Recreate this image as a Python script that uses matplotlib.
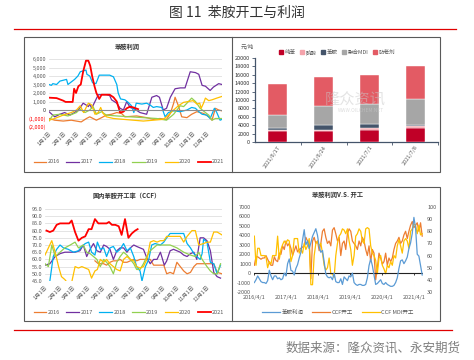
import matplotlib
matplotlib.use("Agg")
import matplotlib.pyplot as plt
import pandas as pd
from matplotlib.patches import Rectangle, Patch
from matplotlib.lines import Line2D

plt.rcParams['font.family'] = ['Noto Sans CJK SC', 'DejaVu Sans']
plt.rcParams['axes.unicode_minus'] = False

# ---------------- data ----------------
# panel 1: aniline profit by year (day of year, yuan/t)
p16_d = [0,12,30,47,68,79,86,100,111,121,132,143,153,160,185,206,220,234,248,256,263,266,273,280,291,301,312,326,337,344,351,358,365]
p16_v = [-1000,-1200,-1300,-1200,-1400,-1000,-800,-1200,-900,-600,-500,-300,-400,-800,-700,-900,-1100,-1000,-1100,-400,800,1500,500,-800,-900,-500,-200,-400,-800,-1200,200,0,-100]
p17_d = [0,12,23,33,44,54,61,66,72,78,83,86,90,97,104,121,128,132,143,150,157,164,171,181,192,206,217,227,233,241,248,256,266,277,287,298,309,316,323,330,340,347,358,365]
p17_v = [-200,-800,-500,-300,-600,-300,0,300,800,600,400,700,200,1000,1800,1800,1700,1200,800,200,0,1000,300,100,-300,-500,1500,1700,1500,0,200,1500,2500,2600,2600,4500,4400,4200,2900,2800,2300,2700,3100,3000]
p18_d = [0,5,8,16,23,30,37,40,47,54,61,66,72,78,80,86,92,99,106,128,136,143,146,151,160,167,174,179,184,196,206,213,220,227,238,245,252,263,277,291,301,309,316,323,333,340,349,354,361,365]
p18_v = [3000,2900,3100,3000,3400,3500,3600,3000,3300,3600,4000,4500,4600,4700,4200,4000,3200,3100,4100,4100,3900,3000,2000,1300,1200,900,500,-300,800,700,800,600,300,400,300,-800,-300,-100,-200,0,300,200,-200,-500,-600,-1000,200,-300,-1200,-1100]
p19_d = [0,8,23,40,58,65,76,86,93,100,111,121,143,171,199,227,248,263,270,277,284,291,301,309,319,330,337,344,351,365]
p19_v = [-1300,-600,-500,-700,-300,100,-300,0,400,-500,-200,-600,-700,-800,-900,-1000,-1200,-500,0,500,400,800,1400,1000,200,-300,-600,-1200,-1000,-1000]
p20_d = [0,12,30,47,58,66,73,83,90,97,104,109,114,121,136,157,178,199,220,241,252,263,273,284,294,304,312,318,321,326,330,337,344,354,365]
p20_v = [-1200,-1000,-600,-300,0,500,-300,800,600,-500,-300,300,-400,-800,-1000,-1100,-1200,-1300,-1200,-1100,-600,0,500,900,1000,1100,700,800,200,800,1400,1100,1200,1400,1600]
p21_d = [0,16,30,35,50,53,57,62,67,72,78,83,87,91,96,100,106,111,128,136,143,150,157,164,171,178,188]
p21_v = [1450,1400,1100,950,950,2500,2000,2800,3000,4500,5800,5800,5200,4000,2800,2000,1300,1800,1800,1500,1000,-300,-200,200,400,300,100]

# panel 2: cost structure (yuan/t)
weeks = ['2021/6/17', '2021/6/24', '2021/7/1', '2021/7/8']
benzene = [2560, 2640, 2960, 3360]
nitric = [390, 260, 320, 400]
aniline = [330, 1100, 1040, 240]
mdi = [3120, 4560, 4720, 6320]
antiox = [7440, 6800, 6880, 7680]
cost_names = ['纯苯', '硝酸', '苯胺', '聚合MDI', '防老剂']

# panel 3: CCF operating rate by year (day of year, %)
r16_d = [103,110,121,127,134,141,148,155,162,169,176,183,189,196,203,210,217,224,238,245,251,258,265,272,279,286,293,300,307,313,320,327,334,341,348,355,365]
r16_v = [59,57,57,56,58,59,59,60,58,58,59,60,59,60,60,60,60,56,56,56,50,51,50,58,55,52,50,51,55,57,57,57,57,57,57,51,50]
r17_d = [0,10,21,31,41,52,62,72,79,86,93,100,107,114,121,127,134,141,148,155,162,169,176,183,189,196,203,210,217,224,231,238,246,251,258,265,272,279,286,293,300,307,313,320,327,334,341,348,355,362]
r17_v = [56,57,62,64,65,65,65,66,70,62,67,71,66,65,70,69,67,60,66,68,68,65,68,70,69,68,67,61,57,60,60,65,56,59,66,67,66,65,63,62,64,65,60,75,75,73,66,51,48,47]
r18_d = [10,17,24,31,38,48,59,69,76,83,90,96,103,108,114,121,127,134,141,148,155,162,169,176,183,189,196,200,207,214,220,227,238,245,251,258,265,279,286,293,300,307,313,320,324,327,334,341,348,355,362]
r18_v = [45,62,67,70,68,67,65,66,69,71,72,65,63,72,67,68,62,68,69,65,67,71,66,68,62,55,52,45,55,60,70,71,70,72,75,78,78,78,78,71,68,64,62,60,64,74,72,58,57,50,56]
r19_d = [0,7,14,21,31,41,52,62,69,79,86,93,100,107,114,121,127,134,141,148,155,162,169,176,183,189,196,203,210,217,224,231,245,258,272,286,300,310,317,324,334,341,348,355,362]
r19_v = [57,55,70,62,65,68,70,72,68,70,65,64,62,60,55,60,58,55,50,58,62,65,63,60,57,53,53,57,62,66,68,70,70,70,68,65,63,62,65,60,55,52,50,50,57]
r20_d = [0,7,14,21,28,34,41,48,55,62,69,76,83,90,96,103,108,114,121,127,134,141,148,155,162,169,176,183,189,196,203,210,217,224,231,238,245,251,265,279,286,293,303,310,317,327,334,341,348,355,365]
r20_v = [63,68,73,65,55,48,46,43,44,55,54,55,54,53,47,52,53,60,58,60,57,55,53,52,60,62,60,59,55,54,55,60,72,73,72,73,73,76,76,76,72,76,80,80,70,71,72,72,79,79,77]
r21_d = [3,10,17,24,31,41,50,55,62,69,76,83,90,96,103,110,121,127,132,138,145,152,158,165,172,179,186,191]
r21_v = [80,79,80,84,85,85,85,87,79,73,75,76,81,81,88,85,85,85,86,84,84,83,77,88,75,78,80,81]

# panel 4: profit vs operating rate, roughly every 19 days from 2016-04
profit = [-1000,-700,-300,-600,-900,-1000,-1000,-1100,-800,300,
          -300,-700,-300,-300,-600,-500,-700,-600,0,-300,
          1000,1500,300,200,-200,500,900,1600,2200,3500,
          4600,3000,3400,2600,3200,3900,4300,4700,4000,2800,
          2200,2400,1200,-100,-400,-500,-400,-700,0,-900,
          -1000,-1000,-600,-1200,-400,-600,-800,-300,-400,0,
          -1000,-1200,-1300,-1200,-1200,-1300,-1300,-1200,-500,800,
          1500,800,-200,-1200,-1100,-900,-700,-1100,-1200,-1000,
          -1200,-1300,-1400,-1400,-1300,-1000,-500,500,1300,1400,
          1000,1300,1700,2600,3200,4200,5900,4800,2000,1800,
          800,-200]
ccf_rate = [52,59,59,58,57,58,58,60,57,54,
            52,52,59,56,55,62,61,68,65,72,
            68,70,66,60,64,68,63,65,66,67,
            68,75,72,70,41,72,75,70,72,64,
            70,80,82,75,70,72,68,81,83,78,
            72,75,60,70,72,65,78,82,80,72,
            70,68,65,72,68,75,72,65,60,68,
            55,65,62,40,50,62,58,53,55,62,
            52,58,55,58,65,70,72,75,70,72,
            77,80,74,80,85,88,83,85,87,80,
            87,76]
mdi_rate = [76,52,66,66,60,60,60,59,50,55,
            53,60,60,60,76,57,65,69,72,70,
            73,72,55,60,74,74,74,62,65,62,
            70,65,68,74,36,36,60,70,72,68,
            70,62,52,48,50,58,45,45,42,60,
            70,76,78,82,81,78,82,72,65,52,
            60,76,78,82,80,72,70,82,83,82,
            68,62,60,56,45,58,60,52,49,45,
            52,50,55,52,60,58,68,73,68,62,
            72,74,72,66,80,82,86,85,78,85,
            77,78]

years = ['2016', '2017', '2018', '2019', '2020', '2021']
year_colors = ['#ED7D31', '#7030A0', '#00B0F0', '#92D050', '#FFC000', '#FF0000']
month_days = [0, 31, 59, 90, 120, 151, 181, 212, 243, 273, 304, 334]
month_labels = [f'{m}月1日' for m in range(1, 13)]

W, H = 474, 360
fig = plt.figure(figsize=(W / 100, H / 100), dpi=100)


def px_axes(l, t, r, b):
    return fig.add_axes([l / W, 1 - b / H, (r - l) / W, (b - t) / H])


def fx(x):
    return x / W


def fy(y):
    return 1 - y / H


gray = '#595959'
fs = 4

# title, rules, frames, source
fig.text(fx(237), fy(13), '图 11  苯胺开工与利润', ha='center', va='center', fontsize=10, color='#333333')
fig.add_artist(Line2D([fx(14), fx(456)], [fy(29), fy(29)], color='#E00000', lw=0.9))
fig.add_artist(Line2D([fx(14), fx(452)], [fy(330), fy(330)], color='#E00000', lw=0.9))
for top, bot in [(37, 172), (187, 321)]:
    fig.add_artist(Rectangle((fx(24), fy(bot)), fx(440) - fx(24), fy(top) - fy(bot),
                             fill=False, ec='#595959', lw=0.8, transform=fig.transFigure))
    fig.add_artist(Line2D([fx(232), fx(232)], [fy(top), fy(bot)], color='#595959', lw=0.8))
fig.text(fx(461), fy(348), '数据来源：隆众资讯、永安期货', ha='right', va='center', fontsize=9, color='#7F7F7F')

# ---------------- panel 1 ----------------
ax1 = px_axes(49, 59, 222, 127)
p_days = [p16_d, p17_d, p18_d, p19_d, p20_d, p21_d]
p_vals = [p16_v, p17_v, p18_v, p19_v, p20_v, p21_v]
for d, v, c, lab in zip(p_days, p_vals, year_colors, years):
    ax1.plot(d, v, color=c, lw=1.3 if lab == '2021' else 0.9, label=lab)
ax1.set_xlim(0, 365)
ax1.set_ylim(-2000, 6000)
yt = list(range(-2000, 6001, 1000))
ylab = [f'({abs(t):,})' if t < 0 else f'{t:,}' for t in yt]
ax1.set_yticks(yt, ylab)
for t, lbl in zip(yt, ax1.get_yticklabels()):
    lbl.set_color('#FF0000' if t < 0 else ('#333333' if t == 0 else gray))
ax1.set_xticks(month_days, month_labels, rotation=45, ha='right', rotation_mode='anchor')
ax1.tick_params(length=0, labelsize=fs, pad=2)
ax1.tick_params(axis='x', colors=gray, pad=3)
ax1.grid(axis='y', color='#D9D9D9', lw=0.5)
ax1.axhline(0, color='#8C8C8C', lw=0.8)
for s in ax1.spines.values():
    s.set_visible(False)
ax1.set_axisbelow(True)
fig.text(fx(127), fy(47), '苯胺利润', ha='center', va='center', fontsize=4.5, fontweight='bold', color='#333333')
ax1.legend(loc='center', bbox_to_anchor=(fx(129), fy(162)), bbox_transform=fig.transFigure, ncol=6,
           frameon=False, fontsize=fs, handlelength=2.3, handletextpad=0.2, columnspacing=1.2,
           labelcolor=gray)

# ---------------- panel 2 ----------------
ax2 = px_axes(255, 58, 438, 142)
cost_colors = ['#C00027', '#F4A3AB', '#44546A', '#A6A6A6', '#E35B64']
x2 = range(len(weeks))
bottom = [0] * len(weeks)
for vals, c, name in zip([benzene, nitric, aniline, mdi, antiox], cost_colors, cost_names):
    ax2.bar(x2, vals, bottom=bottom, width=0.42, color=c, edgecolor='white', lw=0.3, label=name, zorder=3)
    bottom = [b + v for b, v in zip(bottom, vals)]
ax2.set_xlim(-0.5, 3.5)
ax2.set_ylim(0, 20000)
ax2.set_yticks(range(0, 20001, 2000))
ax2.set_xticks(list(x2), weeks, rotation=55, ha='right', rotation_mode='anchor')
ax2.set_xticks([0.5, 1.5, 2.5, 3.5], minor=True)
ax2.tick_params(axis='y', labelsize=fs, length=2, width=0.6, color='#44546A', labelcolor='#333333', pad=1.5)
ax2.tick_params(axis='x', which='major', labelsize=fs, length=0, labelcolor=gray, pad=2)
ax2.tick_params(axis='x', which='minor', length=2, width=0.6, color='#44546A')
for s in ['top', 'right']:
    ax2.spines[s].set_visible(False)
for s in ['left', 'bottom']:
    ax2.spines[s].set_color('#44546A')
    ax2.spines[s].set_linewidth(0.9)
fig.text(fx(247), fy(47), '元/吨', ha='center', va='center', fontsize=fs, color=gray)
ax2.text(0.55, 0.5, '隆众资讯', transform=ax2.transAxes, ha='center', va='center',
         fontsize=11, color='#C8C8C8', alpha=0.5, zorder=4)
ax2.text(0.58, 0.38, 'WWW.OILCHEM.NET', transform=ax2.transAxes, ha='center', va='center',
         fontsize=3.5, color='#C8C8C8', alpha=0.6, zorder=4)
h2 = [Patch(color=c) for c in cost_colors]
ax2.legend(h2, cost_names, loc='center', bbox_to_anchor=(fx(337), fy(52)), bbox_transform=fig.transFigure,
           ncol=5, frameon=False, fontsize=fs, handlelength=0.7, handleheight=0.7, handletextpad=0.3,
           columnspacing=0.8, labelcolor=gray)

# ---------------- panel 3 ----------------
ax3 = px_axes(45, 209, 222, 281)
r_days = [r16_d, r17_d, r18_d, r19_d, r20_d, r21_d]
r_vals = [r16_v, r17_v, r18_v, r19_v, r20_v, r21_v]
for d, v, c, lab in zip(r_days, r_vals, year_colors, years):
    ax3.plot(d, v, color=c, lw=1.3 if lab == '2021' else 0.9, label=lab)
ax3.set_xlim(0, 365)
ax3.set_ylim(45, 95)
yt3 = list(range(45, 96, 5))
ax3.set_yticks(yt3, [f'{t:.1f}' for t in yt3])
ax3.set_xticks(month_days, month_labels, rotation=45, ha='right', rotation_mode='anchor')
ax3.tick_params(length=0, labelsize=fs, colors=gray, pad=2)
ax3.tick_params(axis='x', pad=3)
ax3.grid(axis='y', color='#D9D9D9', lw=0.5)
for s in ax3.spines.values():
    s.set_visible(False)
ax3.set_axisbelow(True)
fig.text(fx(127), fy(196), '国内苯胺开工率（CCF）', ha='center', va='center', fontsize=4.5, fontweight='bold', color='#333333')
ax3.legend(loc='center', bbox_to_anchor=(fx(129), fy(312)), bbox_transform=fig.transFigure, ncol=6,
           frameon=False, fontsize=fs, handlelength=2.3, handletextpad=0.2, columnspacing=1.2,
           labelcolor=gray)

# ---------------- panel 4 ----------------
ax4 = px_axes(254, 207, 423, 292)
ax4r = ax4.twinx()
d4 = pd.date_range('2016-04-05', periods=len(profit), freq='19D')
l1, = ax4.plot(d4, profit, color='#5B9BD5', lw=0.9, label='苯胺利润', zorder=3)
d4b = pd.date_range('2016-04-05', periods=len(ccf_rate), freq='19D')
d4c = pd.date_range('2016-04-05', periods=len(mdi_rate), freq='19D')
l2, = ax4r.plot(d4b, ccf_rate, color='#ED7D31', lw=0.9, label='CCF开工')
l3, = ax4r.plot(d4c, mdi_rate, color='#FFC000', lw=0.9, label='CCF MDI开工')
ax4.set_zorder(ax4r.get_zorder() + 1)
ax4.patch.set_visible(False)
ax4.set_ylim(-2000, 7000)
ax4r.set_ylim(30, 100)
ax4.set_yticks(range(-2000, 7001, 1000))
ax4r.set_yticks(range(30, 101, 10))
ax4.set_xlim(pd.Timestamp('2016-04-01'), pd.Timestamp('2021-07-16'))
tick4 = [pd.Timestamp(f'{y}-04-01') for y in range(2016, 2022)]
ax4.set_xticks(tick4, [f'{y}/4/1' for y in range(2016, 2022)])
ax4.axhline(0, color='#222222', lw=0.8, zorder=2)
ax4.vlines(tick4, -180, 0, color='#222222', lw=0.6)
ax4.tick_params(length=0, labelsize=fs, colors=gray, pad=2)
ax4r.tick_params(length=0, labelsize=fs, colors=gray, pad=3)
for a in (ax4, ax4r):
    for s in a.spines.values():
        s.set_visible(False)
fig.text(fx(337), fy(195), '苯胺利润V.S. 开工', ha='center', va='center', fontsize=4.5, fontweight='bold', color='#333333')
ax4.legend([l1, l2, l3], ['苯胺利润', 'CCF开工', 'CCF MDI开工'], loc='center',
           bbox_to_anchor=(fx(338), fy(312)), bbox_transform=fig.transFigure, ncol=3, frameon=False,
           fontsize=fs, handlelength=3.2, handletextpad=0.3, columnspacing=1.6, labelcolor=gray)

fig.savefig('out.png', dpi=100)
